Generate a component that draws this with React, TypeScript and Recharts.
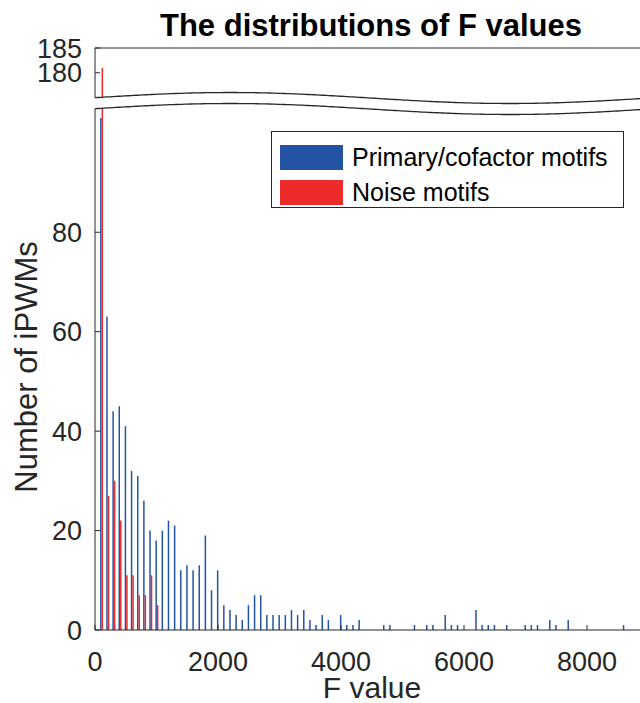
import { BarChart, Bar, XAxis, YAxis } from "recharts";

// histogram bins (F value, bin centres) and counts
const fBins = [
  100, 200, 300, 400, 500, 600, 700, 800, 900, 1000,
  1100, 1200, 1300, 1400, 1500, 1600, 1700, 1800, 1900, 2000,
  2100, 2200, 2300, 2400, 2500, 2600, 2700, 2800, 2900, 3000,
  3100, 3200, 3300, 3400, 3500, 3600, 3700, 3800, 3900, 4000,
  4100, 4200, 4300, 4400, 4500, 4600, 4700, 4800, 4900, 5000,
  5100, 5200, 5300, 5400, 5500, 5600, 5700, 5800, 5900, 6000,
  6100, 6200, 6300, 6400, 6500, 6600, 6700, 6800, 6900, 7000,
  7100, 7200, 7300, 7400, 7500, 7600, 7700, 7800, 7900, 8000,
  8100, 8200, 8300, 8400, 8500, 8600,
];
const primaryCounts = [
  103, 63, 44, 45, 41, 32, 31, 26, 20, 18,
  20, 22, 21, 12, 13, 12, 13, 19, 8, 12,
  5, 4, 3, 2, 5, 7, 7, 3, 3, 3,
  3, 4, 3, 4, 2, 1, 3, 2, 0, 3,
  1, 1, 2, 0, 0, 0, 1, 1, 0, 0,
  0, 1, 0, 1, 1, 0, 3, 1, 1, 0,
  0, 4, 1, 1, 1, 0, 1, 0, 0, 1,
  1, 1, 0, 2, 1, 0, 2, 0, 0, 0,
  0, 0, 0, 0, 0, 1,
];
const noiseCounts = [181, 27, 30, 22, 11, 11, 7, 7, 11, 5];

const xTicks = [0, 2000, 4000, 6000, 8000];
const bottomTicks = [0, 20, 40, 60, 80];
const topTicks = [180, 185];
const TOP_MIN = 173.7;

const BLUE = "#2453A6";
const RED = "#EE2B2B";
const AXIS = "#262626";
const FONT = "'Liberation Sans', Arial, Helvetica, sans-serif";

const bottomData = fBins.map((f, i) => ({
  f,
  primary: primaryCounts[i] || null,
  noise: noiseCounts[i] || null,
}));
const topData = bottomData.map((d) => ({
  f: d.f,
  primary: d.primary != null && d.primary > TOP_MIN ? d.primary : null,
  noise: d.noise != null && d.noise > TOP_MIN ? d.noise : null,
}));

const tickStyle = { fontSize: 27, fill: AXIS, fontFamily: FONT };

function LegendBox() {
  const rows = [
    { name: "Primary/cofactor motifs", color: BLUE },
    { name: "Noise motifs", color: RED },
  ];
  return (
    <div
      style={{
        position: "absolute",
        left: 271,
        top: 131,
        width: 353,
        height: 77,
        border: `1px solid ${AXIS}`,
        background: "#fff",
        boxSizing: "border-box",
        padding: "8px 0 0 8px",
        fontFamily: FONT,
        fontSize: 25,
        color: "#000",
      }}
    >
      {rows.map((r) => (
        <div key={r.name} style={{ display: "flex", alignItems: "center", height: 35 }}>
          <span style={{ width: 63, height: 25, background: r.color, marginRight: 9, display: "inline-block" }} />
          <span style={{ lineHeight: "25px" }}>{r.name}</span>
        </div>
      ))}
    </div>
  );
}

const waveY = (x: number) => 98 + 5.5 * Math.cos((2 * Math.PI * (x - 510)) / 560);

function Overlay() {
  const xs: number[] = [];
  for (let x = 95; x <= 642; x += 3) xs.push(x);
  const upper = xs.map((x) => `${x},${waveY(x).toFixed(2)}`);
  const lower = xs.map((x) => `${x},${(waveY(x) + 11).toFixed(2)}`);
  const fill = `M93,${waveY(95).toFixed(2)} L${upper.join(" L")} L${[...lower].reverse().join(" L")} L93,${(waveY(95) + 11).toFixed(2)} Z`;
  return (
    <svg width={640} height={703} style={{ position: "absolute", left: 0, top: 0, pointerEvents: "none" }}>
      <path d={fill} fill="#fff" stroke="none" />
      <polyline points={upper.join(" ")} fill="none" stroke={AXIS} strokeWidth={1.3} />
      <polyline points={lower.join(" ")} fill="none" stroke={AXIS} strokeWidth={1.3} />
      <text x={371} y={36} textAnchor="middle" fontFamily={FONT} fontSize={31} fontWeight="bold" fill="#000">
        The distributions of F values
      </text>
      <text x={372} y={698} textAnchor="middle" fontFamily={FONT} fontSize={30} fill={AXIS}>
        F value
      </text>
      <text
        x={0}
        y={0}
        transform="translate(37,367) rotate(-90)"
        textAnchor="middle"
        fontFamily={FONT}
        fontSize={31}
        fill={AXIS}
      >
        Number of iPWMs
      </text>
    </svg>
  );
}

export default function App() {
  return (
    <div style={{ position: "absolute", left: 0, top: 0, width: 640, height: 703, overflow: "hidden", background: "#fff" }}>
      <div style={{ position: "absolute", left: 0, top: 0 }}>
        <BarChart width={700} height={703} data={bottomData} margin={{ top: 103, right: 51.5, bottom: 0, left: 0 }} barGap={0}>
          <XAxis
            dataKey="f"
            type="number"
            domain={[0, 9000]}
            ticks={xTicks}
            interval={0}
            allowDataOverflow
            height={73}
            tickSize={-5}
            tickMargin={26.5}
            stroke={AXIS}
            tick={tickStyle}
          />
          <YAxis
            type="number"
            domain={[0, 106]}
            ticks={bottomTicks}
            interval={0}
            allowDataOverflow
            width={95}
            tickSize={-5}
            tickMargin={18}
            stroke={AXIS}
            tick={tickStyle}
          />
          <Bar dataKey="primary" name="Primary/cofactor motifs" fill={BLUE} barSize={1.5} isAnimationActive={false} />
          <Bar dataKey="noise" name="Noise motifs" fill={RED} barSize={1.5} isAnimationActive={false} />
        </BarChart>
      </div>
      <div style={{ position: "absolute", left: 0, top: 0 }}>
        <BarChart width={700} height={104} data={topData} margin={{ top: 47, right: 51.5, bottom: 0, left: 0 }} barGap={0}>
          <XAxis
            dataKey="f"
            type="number"
            orientation="top"
            domain={[0, 9000]}
            ticks={xTicks}
            interval={0}
            allowDataOverflow
            height={1}
            tickSize={-5}
            tick={false}
            stroke={AXIS}
          />
          <YAxis
            type="number"
            domain={[TOP_MIN, 185]}
            ticks={topTicks}
            interval={0}
            allowDataOverflow
            width={95}
            tickSize={-5}
            tickMargin={18}
            stroke={AXIS}
            tick={tickStyle}
          />
          <Bar dataKey="primary" fill={BLUE} barSize={1.5} isAnimationActive={false} />
          <Bar dataKey="noise" fill={RED} barSize={1.5} isAnimationActive={false} />
        </BarChart>
      </div>
      <LegendBox />
      <Overlay />
    </div>
  );
}
